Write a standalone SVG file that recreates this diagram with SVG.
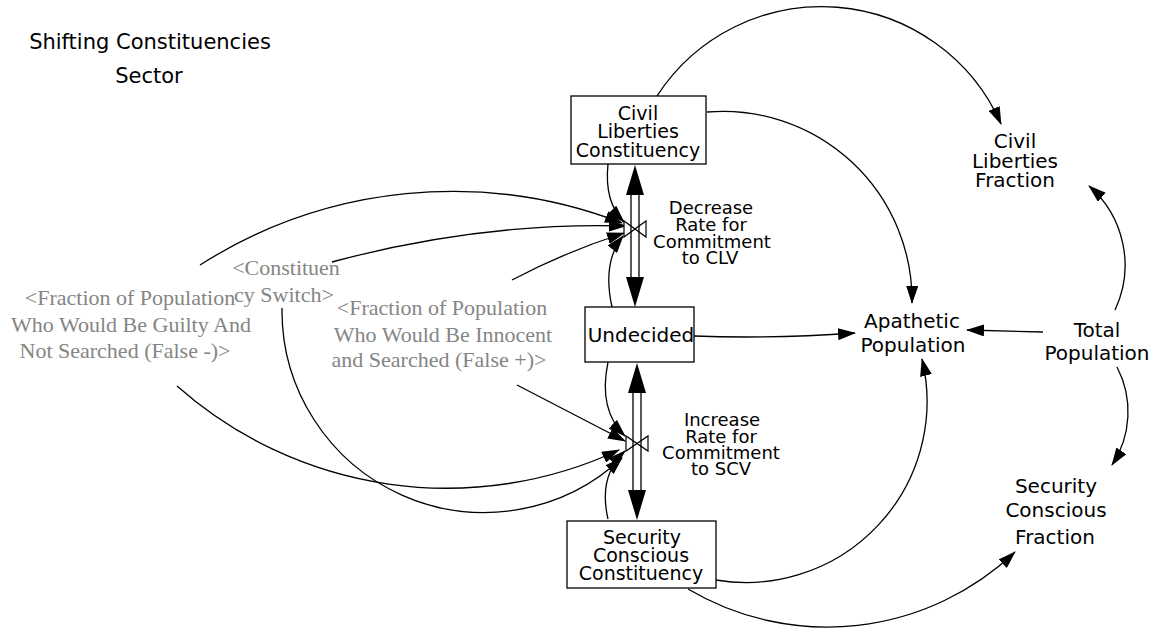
<svg xmlns="http://www.w3.org/2000/svg" width="1156" height="631" viewBox="0 0 1156 631">
<style>
.lbl{font-family:"DejaVu Sans",sans-serif;font-size:20px;fill:#000;text-anchor:middle}
.slbl{font-family:"DejaVu Sans",sans-serif;font-size:19px;fill:#000;text-anchor:middle}
.flbl{font-family:"DejaVu Sans",sans-serif;font-size:18px;fill:#000;text-anchor:middle}
.ttl{font-family:"DejaVu Sans",sans-serif;font-size:21px;fill:#000;text-anchor:middle}
.gry{font-family:"Liberation Serif",serif;font-size:22px;fill:#858585;text-anchor:middle}
.stock{fill:#fff;stroke:#000;stroke-width:1.3}
.con{fill:none;stroke:#000;stroke-width:1.3;marker-end:url(#arr)}
.pipe{stroke:#000;stroke-width:1.3;fill:none}
.head{fill:#000}
.valve{fill:#fff;stroke:#000;stroke-width:1.2}
</style>
<defs>
<marker id="arr" viewBox="0 0 18 12" refX="17" refY="6" markerWidth="18" markerHeight="12" orient="auto" markerUnits="userSpaceOnUse">
<path d="M0,0 L18,6 L0,12 z" fill="#000"/>
</marker>
</defs>
<rect width="1156" height="631" fill="#fff"/>

<g id="title">
<text class="ttl" x="150" y="49">Shifting Constituencies</text>
<text class="ttl" x="149" y="83">Sector</text>
</g>

<g id="connectors">
<path class="con" d="M657,96 A196,196 0 0 1 1001,124"/>
<path class="con" d="M707,112 A189,189 0 0 1 912,303"/>
<path class="con" d="M694,336 Q770,339 855,333"/>
<path class="con" d="M1043,332 L967,330"/>
<path class="con" d="M1115,310 A105,105 0 0 0 1089,186"/>
<path class="con" d="M1117,367 A96.5,96.5 0 0 1 1112,465"/>
<path class="con" d="M716,580 A181,181 0 0 0 922,359"/>
<path class="con" d="M688,589 A273,273 0 0 0 1015,552"/>
<path class="con" d="M200,265 A470,470 0 0 1 622,223"/>
<path class="con" d="M332,262 Q480,222 626,226"/>
<path class="con" d="M512,280 Q565,252 624,233"/>
<path class="con" d="M608,164 Q604,202 624,222"/>
<path class="con" d="M612,307 Q602,262 623,236"/>
<path class="con" d="M608,362 Q598,410 625,436"/>
<path class="con" d="M608,519 Q598,476 625,451"/>
<path class="con" d="M517,385 L625,441"/>
<path class="con" d="M177,386 A407,407 0 0 0 619,450"/>
<path class="con" d="M282,308 A202,202 0 0 0 622,458"/>
</g>

<g id="flow-decrease">
<path class="valve" d="M624,221 L624,237 L646,221 L646,237 Z"/>
<line class="pipe" x1="631" y1="195" x2="631" y2="277"/>
<line class="pipe" x1="639" y1="195" x2="639" y2="277"/>
<polygon class="head" points="635,165 626,195 644,195"/>
<polygon class="head" points="635,307 626,277 644,277"/>
<text class="flbl" x="711" y="214">Decrease</text>
<text class="flbl" x="711" y="231">Rate for</text>
<text class="flbl" x="712" y="248">Commitment</text>
<text class="flbl" x="710" y="264">to CLV</text>
</g>

<g id="flow-increase">
<path class="valve" d="M626,436 L626,451 L648,436 L648,451 Z"/>
<line class="pipe" x1="633" y1="393" x2="633" y2="490"/>
<line class="pipe" x1="641" y1="393" x2="641" y2="490"/>
<polygon class="head" points="637,363 628,393 646,393"/>
<polygon class="head" points="637,520 628,490 646,490"/>
<text class="flbl" x="722" y="426">Increase</text>
<text class="flbl" x="721" y="443">Rate for</text>
<text class="flbl" x="721" y="459">Commitment</text>
<text class="flbl" x="721" y="475">to SCV</text>
</g>

<g id="stock-clc">
<rect class="stock" x="571" y="96" width="135" height="68"/>
<text class="slbl" x="638" y="120">Civil</text>
<text class="slbl" x="638" y="138">Liberties</text>
<text class="slbl" x="638" y="157">Constituency</text>
</g>

<g id="stock-undecided">
<rect class="stock" x="585" y="307" width="109" height="55"/>
<text class="lbl" x="641" y="342">Undecided</text>
</g>

<g id="stock-scc">
<rect class="stock" x="567" y="521" width="149" height="67"/>
<text class="slbl" x="642" y="544">Security</text>
<text class="slbl" x="641" y="562">Conscious</text>
<text class="slbl" x="641" y="580">Constituency</text>
</g>

<g id="clf">
<text class="lbl" x="1015" y="148">Civil</text>
<text class="lbl" x="1015" y="168">Liberties</text>
<text class="lbl" x="1015" y="187">Fraction</text>
</g>

<g id="apathetic">
<text class="lbl" x="912" y="328">Apathetic</text>
<text class="lbl" x="913" y="352">Population</text>
</g>

<g id="total">
<text class="lbl" x="1097" y="337">Total</text>
<text class="lbl" x="1097" y="360">Population</text>
</g>

<g id="scf">
<text class="lbl" x="1056" y="493">Security</text>
<text class="lbl" x="1056" y="517">Conscious</text>
<text class="lbl" x="1055" y="544">Fraction</text>
</g>

<g id="guilty">
<text class="gry" x="130" y="305">&lt;Fraction of Population</text>
<text class="gry" x="131" y="332">Who Would Be Guilty And</text>
<text class="gry" x="125" y="358">Not Searched (False -)&gt;</text>
</g>

<g id="switch">
<text class="gry" x="286" y="275">&lt;Constituen</text>
<text class="gry" x="284" y="302">cy Switch&gt;</text>
</g>

<g id="innocent">
<text class="gry" x="442" y="315">&lt;Fraction of Population</text>
<text class="gry" x="443" y="342">Who Would Be Innocent</text>
<text class="gry" x="439" y="367">and Searched (False +)&gt;</text>
</g>
</svg>
